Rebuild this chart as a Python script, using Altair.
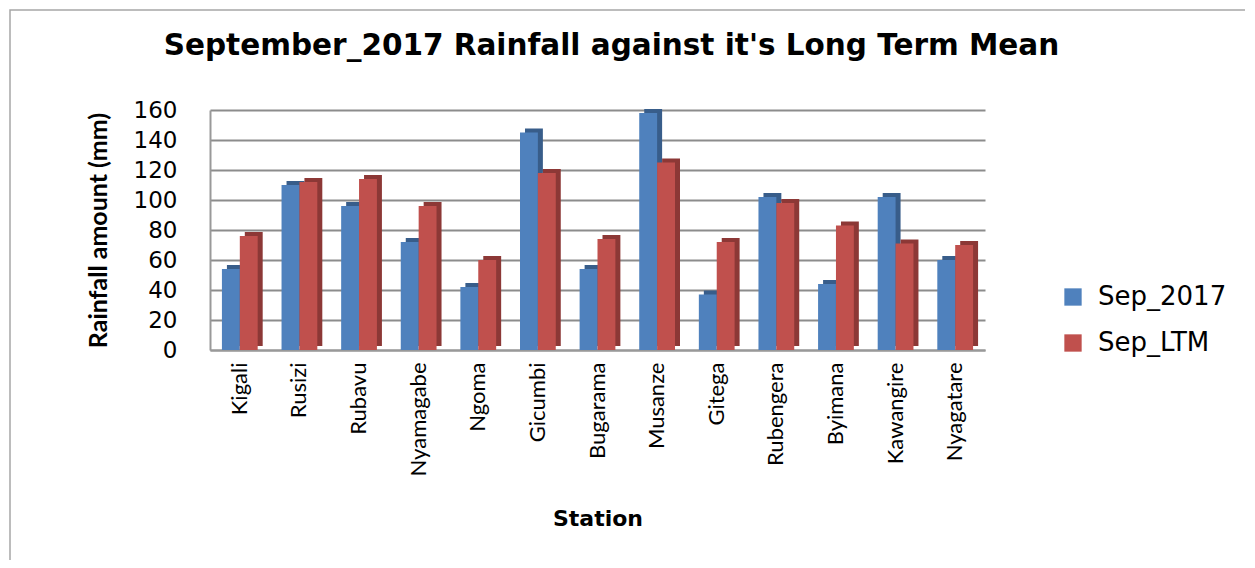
import altair as alt
import pandas as pd

stations = ["Kigali", "Rusizi", "Rubavu", "Nyamagabe", "Ngoma", "Gicumbi", "Bugarama",
            "Musanze", "Gitega", "Rubengera", "Byimana", "Kawangire", "Nyagatare"]
sep_2017 = [54, 110, 96, 72, 42, 145, 54, 158, 37, 102, 44, 102, 60]
sep_ltm = [76, 112, 114, 96, 60, 118, 74, 125, 72, 98, 83, 71, 70]
series = ["Sep_2017", "Sep_LTM"]
colors = ["#4F81BD", "#C0504D"]
dark = ["#385D8A", "#8C3836"]

rows = []
for i, s in enumerate(stations):
    rows.append({"Station": s, "Series": series[0], "Value": sep_2017[i]})
    rows.append({"Station": s, "Series": series[1], "Value": sep_ltm[i]})
df = pd.DataFrame(rows)

WIDE = "DejaVu Sans"
NARROW = "Liberation Sans Narrow, Arial Narrow, Lato"

W, H = 775, 240
x_enc = alt.X("Station:N", sort=stations, title="Station",
              scale=alt.Scale(paddingInner=0.4, paddingOuter=0.2),
              axis=alt.Axis(labelAngle=-90, labelFontSize=22, labelFont=NARROW,
                            labelColor="#000", labelPadding=12, labelBaseline="middle",
                            titleFont=WIDE, titleFontSize=22, titleFontWeight="bold",
                            titleColor="#000", titlePadding=33,
                            ticks=False, domainColor="#999", domainWidth=2))
y_enc = alt.Y("Value:Q", scale=alt.Scale(domain=[0, 160], nice=False),
              title="Rainfall amount (mm)",
              axis=alt.Axis(values=list(range(0, 161, 20)), labelFontSize=23, labelFont=WIDE,
                            labelColor="#000", labelPadding=33, ticks=False,
                            labelOverlap=False,
                            grid=True, gridColor="#8c8c8c", gridWidth=2,
                            domainColor="#999", domainWidth=2,
                            titleFont=NARROW, titleFontSize=25, titleFontWeight="bold",
                            titleColor="#000", titlePadding=22))

band = W / 13 * 0.6

side = alt.Chart(df).mark_bar(yOffset=-4, y2Offset=-4).encode(
    x=x_enc,
    xOffset=alt.XOffset("Series:N", sort=series, scale=alt.Scale(range=[5, band + 5])),
    y=y_enc,
    color=alt.Color("Series:N", scale=alt.Scale(domain=series, range=dark), legend=None),
)

front = alt.Chart(df).mark_bar().encode(
    x=x_enc,
    xOffset=alt.XOffset("Series:N", sort=series, scale=alt.Scale(range=[0, band])),
    y=y_enc,
    color=alt.Color("Series:N", scale=alt.Scale(domain=series, range=colors),
                    legend=alt.Legend(title=None, orient="none", legendX=850, legendY=174,
                                      symbolType="square", symbolSize=300,
                                      symbolStrokeWidth=0,
                                      labelFont=WIDE, labelFontSize=26, labelColor="#000",
                                      rowPadding=20, labelOffset=12)),
)

frame = alt.Chart(pd.DataFrame({"k": [0]})).mark_rect(
    fill=None, stroke="#a6a6a6", strokeWidth=1.5).encode(
    x=alt.value(-200), x2=alt.value(1040), y=alt.value(-100), y2=alt.value(480))

chart = alt.layer(frame, side, front).resolve_scale(
    color="independent", xOffset="independent").properties(
    width=W, height=H,
    autosize=alt.AutoSizeParams(type="none"),
    padding={"left": 202, "top": 102, "right": 260, "bottom": 210},
    title=alt.TitleParams("September_2017 Rainfall against it's Long Term Mean",
                          font=WIDE, fontSize=29.5, fontWeight="bold", color="#000",
                          anchor="middle", offset=-52, dx=14),
).configure_view(stroke=None).configure_axis(gridOpacity=1)

chart.save("out.html", embed_options={"renderer": "svg", "actions": False})
